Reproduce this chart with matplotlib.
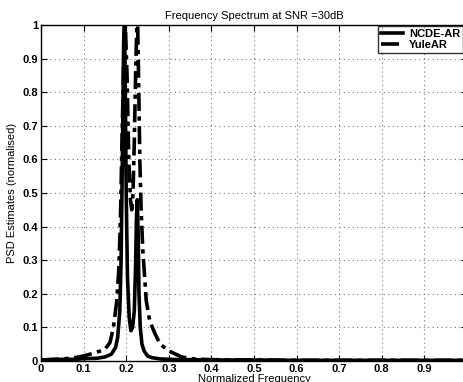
import matplotlib
matplotlib.use("Agg")
import matplotlib.pyplot as plt

plt.rcParams['font.family'] = ['Liberation Sans', 'DejaVu Sans']
plt.rcParams['font.weight'] = 'bold'

title = "Frequency Spectrum at SNR =30dB"
xlabel = "Normalized Frequency"
ylabel = "PSD Estimates (normalised)"
xticks = [0, 0.1, 0.2, 0.3, 0.4, 0.5, 0.6, 0.7, 0.8, 0.9]
xticklabels = ["0", "0.1", "0.2", "0.3", "0.4", "0.5", "0.6", "0.7", "0.8", "0.9"]
yticks = [0, 0.1, 0.2, 0.3, 0.4, 0.5, 0.6, 0.7, 0.8, 0.9, 1]
yticklabels = ["0", "0.1", "0.2", "0.3", "0.4", "0.5", "0.6", "0.7", "0.8", "0.9", "1"]

ncde_f = [0, 0.02, 0.05, 0.08, 0.10, 0.13, 0.15, 0.165, 0.175, 0.18, 0.185, 0.188,
          0.191, 0.194, 0.196, 0.198, 0.200, 0.203, 0.207, 0.211, 0.215, 0.219,
          0.222, 0.224, 0.226, 0.228, 0.230, 0.233, 0.237, 0.242, 0.25, 0.26, 0.28,
          0.30, 0.33, 0.36, 0.40, 0.45, 0.5, 0.6, 0.7, 0.8, 0.9, 1.0]
ncde_v = [0.003, 0.004, 0.005, 0.005, 0.007, 0.008, 0.012, 0.02, 0.04, 0.07, 0.15, 0.3,
          0.6, 0.95, 1.0, 0.8, 0.5, 0.25, 0.13, 0.09, 0.1, 0.15,
          0.28, 0.42, 0.48, 0.38, 0.2, 0.1, 0.05, 0.03, 0.015, 0.01, 0.006,
          0.005, 0.004, 0.004, 0.003, 0.003, 0.003, 0.002, 0.002, 0.002, 0.002, 0.002]

yule_f = [0, 0.05, 0.08, 0.10, 0.12, 0.14, 0.15, 0.162, 0.17, 0.178, 0.183, 0.187,
          0.19, 0.194, 0.198, 0.202, 0.206, 0.21, 0.213, 0.216, 0.219, 0.222, 0.225,
          0.227, 0.229, 0.232, 0.235, 0.239, 0.247, 0.255, 0.268, 0.28, 0.30, 0.33,
          0.36, 0.4, 0.5, 0.6, 0.7, 0.8, 0.9, 1.0]
yule_v = [0.003, 0.006, 0.01, 0.015, 0.022, 0.03, 0.035, 0.055, 0.1, 0.18, 0.28, 0.45,
          0.65, 0.88, 1.0, 0.85, 0.6, 0.48, 0.45, 0.5, 0.65, 0.85, 1.0,
          1.0, 0.85, 0.6, 0.45, 0.33, 0.18, 0.12, 0.08, 0.05, 0.03, 0.012,
          0.006, 0.004, 0.003, 0.002, 0.002, 0.002, 0.002, 0.002]

fig = plt.figure(figsize=(4.63, 3.82), dpi=100)
ax = fig.add_axes([41/463, 1-361/382, 426/463, 336/382])

ax.plot(yule_f, yule_v, color='black', lw=2.6, linestyle=(0, (5, 1.5, 1.2, 1.5)),
        label='YuleAR', zorder=3)
ax.plot(ncde_f, ncde_v, color='black', lw=2.6, linestyle='-', label='NCDE-AR', zorder=4)

ax.set_xlim(0, 1)
ax.set_ylim(0, 1)
ax.set_xticks(xticks)
ax.set_xticklabels(xticklabels)
ax.set_yticks(yticks)
ax.set_yticklabels(yticklabels)
ax.tick_params(direction='in', top=True, right=True, labelsize=8, length=4, pad=2)
ax.grid(True, linestyle=(0, (1, 3)), color='#777777', linewidth=0.8)
for s in ax.spines.values():
    s.set_linewidth(1.0)

ax.set_title(title, fontsize=8, fontweight='normal', pad=4)
ax.set_xlabel(xlabel, fontsize=8, labelpad=0)
ax.set_ylabel(ylabel, fontsize=8, labelpad=4)

h, l = ax.get_legend_handles_labels()
leg = fig.legend([h[1], h[0]], [l[1], l[0]], loc='upper right',
                 bbox_to_anchor=(1.0, 1 - 26/382), fontsize=8, frameon=True,
                 fancybox=False, edgecolor='black', borderpad=0.25,
                 labelspacing=0.1, handlelength=2.0, handletextpad=0.5,
                 borderaxespad=0)
leg.get_frame().set_linewidth(1.0)

fig.savefig("out.png", dpi=100)
